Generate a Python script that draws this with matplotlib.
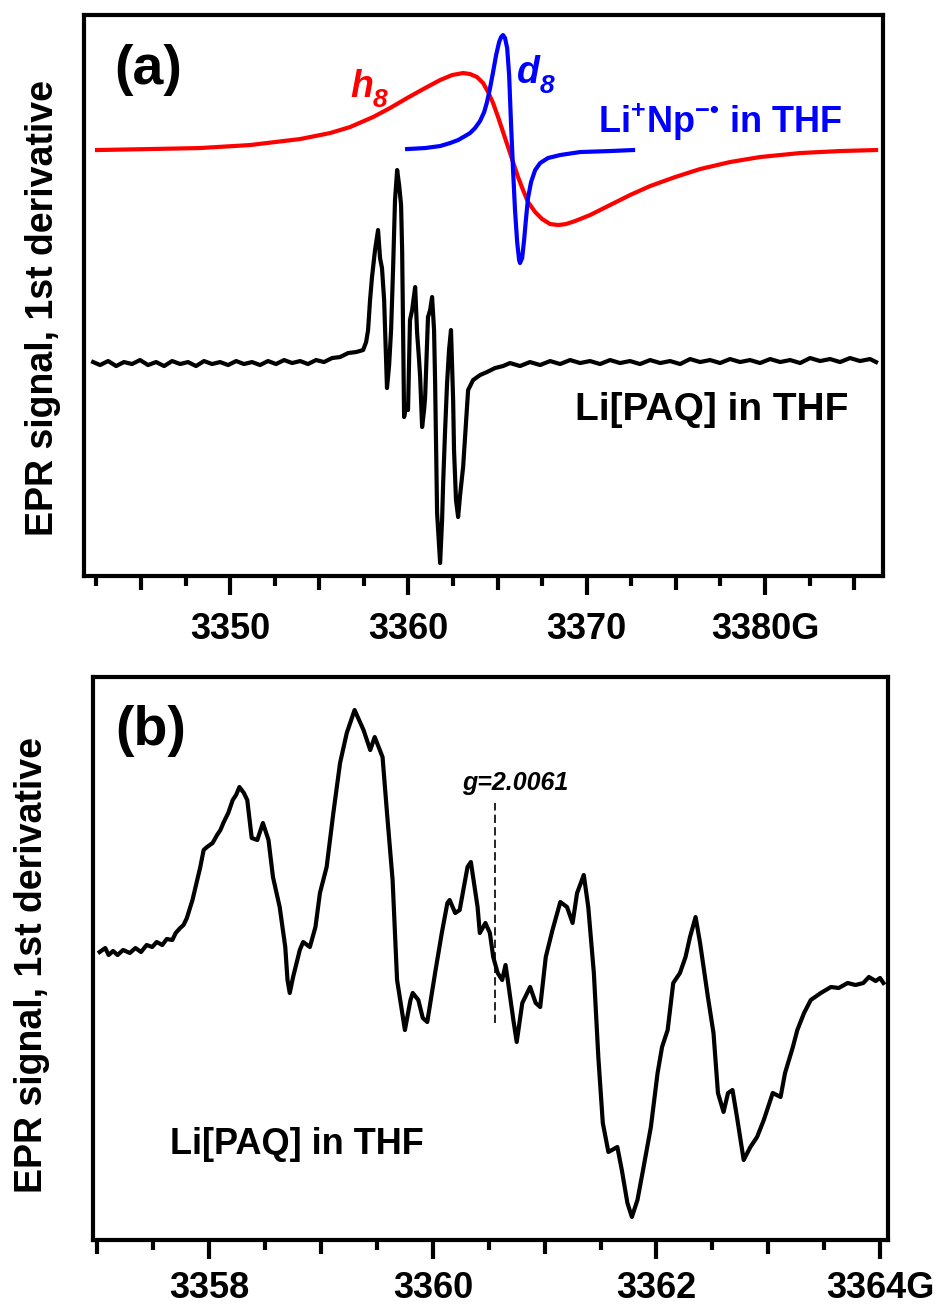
import numpy as np
import matplotlib.pyplot as plt
from matplotlib.ticker import MultipleLocator

plt.rcParams['font.family'] = ['Liberation Sans', 'DejaVu Sans']
plt.rcParams['font.weight'] = 'bold'
plt.rcParams['mathtext.fontset'] = 'custom'
plt.rcParams['mathtext.rm'] = 'Liberation Sans:bold'
plt.rcParams['mathtext.bf'] = 'Liberation Sans:bold'
plt.rcParams['mathtext.it'] = 'Liberation Sans:italic:bold'

# ---- panel (a): Li[PAQ] in THF, wide sweep (field in G, signal in arb. units)
paq_a_field = [
    3342.32, 3342.71, 3343.16, 3343.61, 3344.05, 3344.50, 3344.95, 3345.40, 3345.85, 3346.30,
    3346.75, 3347.20, 3347.64, 3348.09, 3348.54, 3348.99, 3349.44, 3349.89, 3350.34, 3350.78,
    3351.23, 3351.68, 3352.13, 3352.58, 3353.03, 3353.48, 3353.93, 3354.37, 3354.82, 3355.27,
    3355.72, 3356.17, 3356.62, 3357.07,
    3357.46, 3357.63, 3357.74, 3357.85, 3357.96, 3358.13, 3358.30, 3358.41, 3358.52, 3358.64,
    3358.80, 3358.92, 3359.03, 3359.14, 3359.25, 3359.37, 3359.48, 3359.59, 3359.65, 3359.76,
    3359.87, 3359.98, 3360.09, 3360.21, 3360.38, 3360.49, 3360.60, 3360.66, 3360.77, 3360.88,
    3360.94, 3361.05, 3361.10, 3361.22, 3361.33, 3361.44, 3361.50, 3361.61, 3361.78, 3361.89,
    3361.95, 3362.06, 3362.17, 3362.28, 3362.39, 3362.51, 3362.56, 3362.67, 3362.79, 3362.90,
    3363.07, 3363.24, 3363.35, 3363.63, 3364.02, 3364.41, 3364.86, 3365.31, 3365.70,
    3366.26, 3366.82, 3367.39, 3367.95, 3368.51, 3369.07, 3369.63, 3370.19, 3370.75, 3371.31,
    3371.87, 3372.43, 3372.99, 3373.56, 3374.12, 3374.68, 3375.24, 3375.80, 3376.36, 3376.92,
    3377.48, 3378.04, 3378.60, 3379.16, 3379.72, 3380.29, 3380.85, 3381.41, 3381.97, 3382.53,
    3383.09, 3383.65, 3384.21, 3384.77, 3385.33, 3385.89, 3386.23,
]
paq_a_signal = [
    1, -2, 2, -3, 1, -1, 3, -2, 1, -3,
    2, -1, 1, -3, 2, -1, 1, -2, 2, -1,
    1, -2, 2, -1, 3, 0, 2, -1, 3, 1,
    5, 6, 10, 11,
    13, 21, 33, 63, 86, 113, 133, 105, 95, 63,
    -25, -2, 33, 93, 163, 193, 178, 158, 113, -54,
    -42, -47, 43, 53, 76, 30, 3, -14, -64, -47,
    -34, 23, 46, 53, 66, 33, -20, -150, -200, -157,
    -120, -67, -20, 13, 33, -37, -87, -137, -154, -132,
    -104, -57, -27, -17, -12, -9, -5, -3, 0,
    -3, 1, -2, 2, -1, 3, 0, 2, -1, 3,
    0, 2, -1, 3, 0, 2, -1, 4, 1, 3,
    0, 4, 1, 3, 0, 4, 1, 3, 0, 5,
    2, 4, 1, 5, 2, 4, 1,
]

# Li+Np-. reference spectra (h8 red, d8 blue), same units, offset upward
h8_field = [3342.54, 3345.51, 3348.32, 3351.12, 3353.93, 3355.61, 3356.73, 3358.02, 3358.97,
            3359.93, 3360.94, 3361.78, 3362.45, 3363.07, 3363.46, 3363.85, 3364.19, 3364.47,
            3364.75, 3365.03, 3365.31, 3365.59, 3365.87, 3366.15, 3366.43, 3366.71, 3367.11,
            3367.50, 3367.95, 3368.40, 3368.84, 3369.35, 3370.19, 3371.31, 3372.43, 3373.56,
            3374.96, 3376.36, 3378.04, 3379.72, 3381.97, 3384.21, 3386.23]
h8_signal = [213, 214, 215, 218, 224, 230, 236, 246, 255,
             265, 275, 283, 288, 290, 289, 286, 280, 271,
             260, 246, 231, 216, 201, 186, 173, 161, 151,
             144, 139, 138, 139, 142, 148, 158, 168, 177,
             186, 194, 201, 206, 210, 212, 213]

d8_field = [3359.93, 3360.94, 3361.78, 3362.34, 3362.79, 3363.18, 3363.46, 3363.74, 3364.02,
            3364.25, 3364.41, 3364.58, 3364.75, 3364.92, 3365.09, 3365.20, 3365.31, 3365.42,
            3365.54, 3365.65, 3365.76, 3365.87, 3365.98, 3366.10, 3366.21, 3366.26, 3366.38,
            3366.49, 3366.60, 3366.71, 3366.88, 3367.11, 3367.39, 3367.83, 3368.51, 3369.63,
            3371.31, 3372.60]
d8_signal = [214, 215, 217, 220, 223, 227, 230, 235, 242,
             251, 261, 275, 291, 308, 321, 326, 328, 325,
             315, 288, 238, 193, 153, 121, 103, 100, 105,
             123, 145, 165, 181, 193, 200, 205, 208, 211,
             212, 213]

# ---- panel (b): Li[PAQ] in THF, narrow sweep
paq_b_field = [
    3357.02, 3357.07, 3357.10, 3357.14, 3357.18, 3357.23, 3357.29, 3357.34, 3357.39, 3357.44,
    3357.49, 3357.53, 3357.58, 3357.62, 3357.67, 3357.70, 3357.74, 3357.77, 3357.80, 3357.85,
    3357.92, 3357.95, 3357.98, 3358.03, 3358.07, 3358.10, 3358.13, 3358.17, 3358.21, 3358.24,
    3358.27, 3358.31, 3358.34, 3358.38, 3358.43, 3358.48, 3358.53, 3358.57, 3358.63, 3358.68,
    3358.70, 3358.72, 3358.75, 3358.81, 3358.84, 3358.90, 3358.95, 3358.99, 3359.05, 3359.11,
    3359.17, 3359.23, 3359.30, 3359.38, 3359.44, 3359.48, 3359.55, 3359.59, 3359.64, 3359.68,
    3359.75, 3359.80, 3359.82, 3359.87, 3359.91, 3359.95, 3360.02, 3360.08, 3360.13, 3360.15,
    3360.20, 3360.24, 3360.31, 3360.34, 3360.40, 3360.42, 3360.47, 3360.51, 3360.54, 3360.58,
    3360.62, 3360.65, 3360.67, 3360.72, 3360.75, 3360.80, 3360.87, 3360.92, 3360.96, 3361.01,
    3361.07, 3361.14, 3361.20, 3361.25, 3361.29, 3361.35, 3361.39, 3361.44, 3361.48, 3361.52,
    3361.57, 3361.65, 3361.69, 3361.74, 3361.78, 3361.83, 3361.88, 3361.95, 3362.01, 3362.05,
    3362.10, 3362.15, 3362.21, 3362.26, 3362.30, 3362.35, 3362.39, 3362.46, 3362.51, 3362.55,
    3362.60, 3362.64, 3362.68, 3362.72, 3362.78, 3362.84, 3362.90, 3362.96, 3363.04, 3363.11,
    3363.15, 3363.22, 3363.26, 3363.32, 3363.38, 3363.47, 3363.56, 3363.63, 3363.71, 3363.78,
    3363.85, 3363.90, 3363.96, 3364.00, 3364.03,
]
paq_b_signal = [
    8, 12, 5, 9, 5, 10, 7, 12, 8, 15,
    13, 18, 15, 21, 20, 27, 32, 35, 42, 60,
    93, 110, 113, 117, 125, 130, 138, 147, 160, 165,
    173, 167, 160, 122, 120, 137, 120, 83, 53, 13,
    -20, -33, -17, 10, 18, 13, 33, 67, 93, 147,
    197, 227, 250, 230, 210, 223, 203, 147, 80, -20,
    -70, -40, -33, -40, -58, -62, -13, 27, 57, 60,
    47, 50, 93, 98, 53, 27, 37, 27, 3, -13,
    -20, -5, -20, -60, -82, -43, -27, -43, -47, 3,
    30, 58, 53, 37, 67, 85, 53, -13, -97, -163,
    -192, -187, -210, -243, -257, -240, -210, -167, -113, -87,
    -70, -23, -13, 3, 23, 43, 17, -37, -73, -133,
    -152, -133, -130, -157, -200, -187, -177, -160, -133, -137,
    -113, -87, -70, -53, -40, -33, -27, -28, -23, -25,
    -23, -17, -21, -18, -23,
]

g_field = 3360.56          # g = 2.0061
g_mark = (-63, 157)        # extent of the dashed marker

ticks_a = [3345, 3350, 3355, 3360, 3365, 3370, 3375, 3380, 3385]
labels_a = ['', '3350', '', '3360', '', '3370', '', '3380G', '']
ticks_b = [3357, 3358, 3359, 3360, 3361, 3362, 3363, 3364]
labels_b = ['', '3358', '', '3360', '', '3362', '', '3364G']

fig = plt.figure(figsize=(9.38, 13.08), dpi=100)
ax_a = fig.add_axes([0.0896, 0.5596, 0.8518, 0.4289])
ax_b = fig.add_axes([0.0991, 0.0520, 0.8475, 0.4304])

ax_a.plot(h8_field, h8_signal, color='red', lw=3)
ax_a.plot(d8_field, d8_signal, color='blue', lw=3)
ax_a.plot(paq_a_field, paq_a_signal, color='black', lw=3)
ax_a.set_xlim(3341.81, 3386.62)
ax_a.set_ylim(-213, 348)

ax_b.plot(paq_b_field, paq_b_signal, color='black', lw=3)
ax_b.vlines(g_field, g_mark[0], g_mark[1], color='black', lw=1.2, linestyles=(0, (5, 2.5)))
ax_b.set_xlim(3356.96, 3364.07)
ax_b.set_ylim(-280, 283)


def style_axis(ax, ticks, labels, minor_step, long_every, pad):
    for sp in ax.spines.values():
        sp.set_linewidth(3)
    ax.set_yticks([])
    ax.set_xticks(ticks)
    ax.set_xticklabels(labels)
    ax.xaxis.set_minor_locator(MultipleLocator(minor_step))
    ax.tick_params(axis='x', which='major', direction='out', length=10, width=3,
                   labelsize=26, pad=pad)
    ax.tick_params(axis='x', which='minor', direction='out', length=7, width=3)
    for lab in ax.get_xticklabels():
        lab.set_fontweight('bold')
    # labelled ticks are drawn longer than the unlabelled ones
    for t, pos in zip(ax.xaxis.get_major_ticks(), ticks):
        if pos % long_every == 0:
            t.tick1line.set_markersize(13.5)


style_axis(ax_a, ticks_a, labels_a, 2.5, 10, 16)
style_axis(ax_b, ticks_b, labels_b, 0.5, 2, 12)

ax_a.text(0.080, 0.902, '(a)', transform=ax_a.transAxes, fontsize=40,
          ha='center', va='center')
# italic labels with italic subscripts
for x, y, letter, col in [(0.333, 0.854, 'h', 'red'), (0.542, 0.879, 'd', 'blue')]:
    ax_a.text(x, y, letter, transform=ax_a.transAxes, color=col, fontsize=27,
              style='italic', ha='left', va='baseline')
    ax_a.annotate('8', xy=(x, y), xycoords='axes fraction', xytext=(16.5, -7),
                  textcoords='offset points', color=col, fontsize=19,
                  style='italic', ha='left', va='baseline')
ax_a.text(0.643, 0.790, 'Li$^{+}$Np$^{-•}$ in THF', transform=ax_a.transAxes,
          color='blue', fontsize=26, ha='left', va='baseline')
ax_a.text(0.785, 0.296, 'Li[PAQ] in THF', transform=ax_a.transAxes, fontsize=28,
          ha='center', va='center')

ax_b.text(0.072, 0.904, '(b)', transform=ax_b.transAxes, fontsize=40,
          ha='center', va='center')
ax_b.text(0.531, 0.799, 'g=2.0061', transform=ax_b.transAxes, fontsize=18,
          style='italic', ha='center', va='baseline')
ax_b.text(0.257, 0.170, 'Li[PAQ] in THF', transform=ax_b.transAxes, fontsize=26,
          ha='center', va='center')

fig.text(0.0458, 0.7645, 'EPR signal, 1st derivative', rotation=90, fontsize=27,
         ha='center', va='center')
fig.text(0.0341, 0.2622, 'EPR signal, 1st derivative', rotation=90, fontsize=27,
         ha='center', va='center')

fig.savefig('out.png', dpi=100)
